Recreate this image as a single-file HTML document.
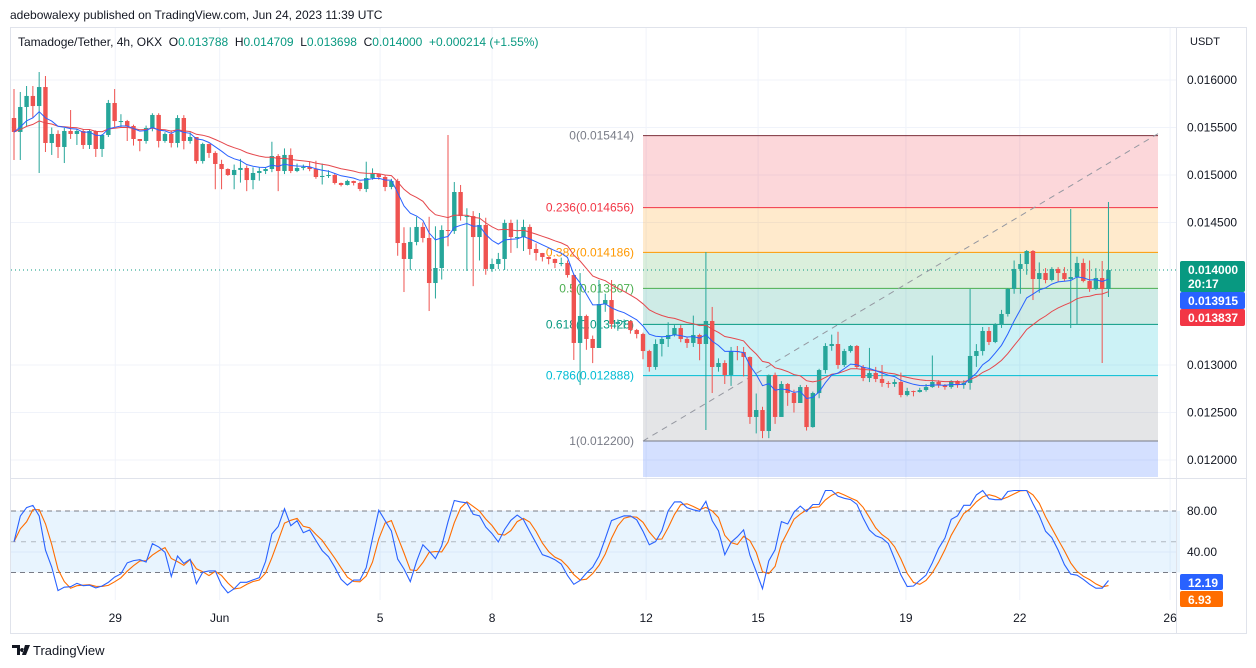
<!DOCTYPE html>
<html><head><meta charset="utf-8">
<style>
html,body{margin:0;padding:0;background:#fff;width:1256px;height:668px;overflow:hidden;font-family:"Liberation Sans",sans-serif;}
svg text{font-family:"Liberation Sans",sans-serif;}
</style></head>
<body>
<svg id="c" width="1256" height="668" viewBox="0 0 1256 668" xmlns="http://www.w3.org/2000/svg"></svg>
<script>
const firstOpen = 15600;
const closes = [15453,15716,15832,15726,15926,15337,15432,15295,15463,15432,
15463,15316,15463,15274,15421,15758,15568,15568,15516,15379,
15358,15495,15632,15358,15432,15337,15600,15358,15400,15147,
15326,15232,15116,15063,15000,15053,15074,14947,15021,15042,
15063,15200,15042,15211,15042,15074,15084,15063,14979,14990,
15000,14916,14895,14937,14916,14853,14968,15011,14979,14874,
14937,14284,14116,14295,14453,14337,13863,14021,14421,14411,
14821,14568,14568,14347,14474,14011,14063,14116,14495,14347,
14347,14453,14221,14179,14137,14116,14074,14074,13947,13232,
13516,13274,13179,13642,13684,13432,13453,13463,13368,13326,
13147,12979,13221,13274,13316,13389,13274,13232,13316,13221,
13463,12979,13021,12895,13147,13137,13084,12453,12526,12305,
12895,12453,12800,12705,12600,12768,12347,12705,12947,13200,
13221,13000,13147,13200,12979,12863,12916,12853,12811,12800,
12821,12684,12726,12716,12737,12768,12821,12789,12768,12832,
12789,12811,13095,13147,13358,13242,13421,13537,13800,14011,
14063,14200,13905,13968,13895,14011,13968,13905,13926,14074,
13884,13800,13916,13800,14000];
const highs = [15905,15874,15937,15937,16084,16042,15500,15470,15495,15684,
15480,15480,15480,15470,15430,15790,15905,15640,15580,15530,
15379,15520,15650,15650,15450,15470,15630,15630,15450,15400,
15340,15330,15250,15160,15070,15110,15170,15100,15080,15080,
15080,15350,15220,15280,15280,15120,15110,15140,15150,15120,
15050,15010,14920,14950,14940,14930,15140,15070,15000,15000,
14960,14960,14450,14450,14560,14500,14560,14460,14470,15421,
14926,14895,14650,14620,14600,14550,14120,14180,14530,14530,
14530,14530,14480,14280,14180,14140,14120,14130,14100,13960,
13968,13530,13310,13895,13750,13895,13480,13480,13470,13380,
13340,13160,13270,13300,13450,13420,13420,13290,13520,13330,
14189,13611,13070,13050,13190,13200,13190,13090,12700,12560,
12900,12920,12830,12810,12740,12790,12790,12720,12960,13230,
13320,13350,13170,13210,13210,13000,13180,12980,13000,12830,
12850,12920,12760,12730,12760,12800,13100,12840,12800,12840,
12840,12840,13800,13220,13400,13400,13440,13580,13810,14100,
14170,14210,14210,14080,14020,14030,14030,14030,14642,14140,
14120,14100,14020,14095,14716];
const lows = [15158,15158,15516,15600,15021,15242,15211,15179,15126,15380,
15316,15274,15274,15190,15190,15400,15500,15500,15358,15310,
15250,15330,15460,15290,15340,15290,15290,15270,15330,15120,
15120,15180,14850,14850,14990,14850,14920,14830,14850,14940,
15010,15030,14830,15010,15020,15030,15050,15040,14960,14900,
14970,14900,14880,14890,14890,14830,14820,14950,14950,14830,
14850,14150,13768,14000,14260,14290,13568,13700,13900,14250,
14380,14520,13990,13830,14100,13950,13980,14010,14000,14180,
14230,14200,14160,14100,14090,14060,14020,14040,13920,13053,
12789,13160,13020,13180,13560,13380,13360,13380,13330,13280,
13060,12930,12950,13090,13190,13300,13240,13180,13190,13050,
12316,12705,12930,12800,12780,13050,12880,12380,12280,12230,
12230,12380,12640,12570,12500,12600,12310,12340,12650,12910,
13150,12960,12980,13130,12960,12830,12820,12820,12770,12760,
12770,12660,12670,12670,12710,12720,12760,12760,12740,12750,
12760,12750,12740,12980,13100,13210,13230,13390,13510,13750,
13750,13950,13684,13760,13860,13880,13880,13880,13389,13421,
13870,13770,13790,13021,13716];
const priceTicks = [16000,15500,15000,14500,13000,12500,12000];
const timeLabels = ["29","Jun","5","8","12","15","19","22","26"];
const timeLabelIdx = [16.1,32.7,58.2,76,100.5,118.3,141.8,159.9,183.8];
const fibRatios = ["0","0.236","0.382","0.5","0.618","0.786","1"];
const fibPrices = [15414,14656,14186,13807,13428,12888,12200];
const oscTicks = [80,40];
const lastClose = 14000, blueLast = 13915, redLast = 13837;

const NS="http://www.w3.org/2000/svg";
const svg=document.getElementById('c');
function el(tag,attrs,parent){const e=document.createElementNS(NS,tag);for(const k in attrs)e.setAttribute(k,attrs[k]);(parent||svg).appendChild(e);return e;}
function yP(p){return 80+(16000-p)*0.0950;}
function xI(i){return 14+i*6.29;}
function yO(v){return 593-v*1.025;}

const frame=el('rect',{x:10.5,y:27.5,width:1236,height:606,fill:'none',stroke:'#e0e3eb'});


const hdr=el('text',{x:10,y:19,'font-size':12,fill:'#131722'});hdr.textContent='adebowalexy published on TradingView.com, Jun 24, 2023 11:39 UTC';



priceTicks.forEach(p=>{const g=el('line',{x1:11,x2:1176,y1:yP(p),y2:yP(p),stroke:'#f0f3fa'});

});
[511,552].forEach(y=>{el('line',{x1:11,x2:1176,y1:y,y2:y,stroke:'#f0f3fa'});});
timeLabelIdx.forEach(i=>{const g=el('line',{x1:xI(i),x2:xI(i),y1:28,y2:600,stroke:'#f0f3fa'});

});

const fx1=643,fx2=1158;
const fibFill=['rgba(242,54,69,0.2)','rgba(255,152,0,0.2)','rgba(76,175,80,0.2)','rgba(8,153,129,0.2)','rgba(0,188,212,0.2)','rgba(120,123,134,0.2)'];
const fibCol=['#7b2f3a','#f23645','#ff9800','#4caf50','#089981','#00bcd4','#787b86'];
for(let k=0;k<fibPrices.length-1;k++){const r=el('rect',{x:fx1,y:yP(fibPrices[k]),width:fx2-fx1,height:yP(fibPrices[k+1])-yP(fibPrices[k]),fill:fibFill[k]});

}
const rb=el('rect',{x:fx1,y:yP(fibPrices[6]),width:fx2-fx1,height:477-yP(fibPrices[6]),fill:'rgba(41,98,255,0.2)'});


fibPrices.forEach((p,k)=>{const l=el('line',{x1:fx1,x2:fx2,y1:yP(p),y2:yP(p),stroke:fibCol[k],'stroke-width':1});


const t=el('text',{x:634,y:yP(p)+4,'text-anchor':'end','font-size':12,fill:fibCol[k]==='#7b2f3a'?'#787b86':fibCol[k]});
t.textContent=fibRatios[k]+'('+(p/1e6).toFixed(6)+')';

});
const tl=el('line',{x1:fx1,y1:yP(fibPrices[6]),x2:fx2,y2:yP(fibPrices[0])-2,stroke:'#9598a1','stroke-dasharray':'6,5'});



const cp=el('line',{x1:11,x2:1176,y1:yP(lastClose),y2:yP(lastClose),stroke:'#089981','stroke-dasharray':'1,3'});



const n=closes.length;
for(let i=0;i<n;i++){const o=i?closes[i-1]:firstOpen,c=closes[i];const up=c>=o;const col=up?'#26a69a':'#ef5350';const x=xI(i);
const w=el('line',{x1:x,x2:x,y1:yP(highs[i]),y2:yP(lows[i]),stroke:col,'stroke-width':1});


const top=yP(Math.max(o,c)),bot=yP(Math.min(o,c));
const b=el('rect',{x:x-2.2,y:top,width:4.4,height:Math.max(1,bot-top),fill:col});

}

function ema(arr,len){const k=2/(len+1);const out=[];let v=arr[0];for(let i=0;i<arr.length;i++){v=i?arr[i]*k+v*(1-k):arr[i];out.push(v);}return out;}
function poly(vals,col,name){const pts=vals.map((v,i)=>xI(i).toFixed(1)+','+yP(v).toFixed(1)).join(' ');
const p=el('polyline',{points:pts,fill:'none',stroke:col,'stroke-width':1});

}
poly(ema(closes,20),'#e5484d','ma-slow-line');
poly(ema(closes,9),'#2962ff','ma-fast-line');

const sep=el('line',{x1:11,x2:1246,y1:478.5,y2:478.5,stroke:'#e0e3eb'});


const band=el('rect',{x:11,y:yO(80),width:1169,height:yO(20)-yO(80),fill:'rgba(33,150,243,0.1)'});


[80,50,20].forEach(v=>{const l=el('line',{x1:11,x2:1180,y1:yO(v),y2:yO(v),stroke:'#787b86','stroke-dasharray':v===50?'5,5':'5,4','stroke-opacity':v===50?0.5:1});

});
const rsi=[];let ag=0,al=0;const L=14;
for(let i=0;i<n;i++){if(i===0){rsi.push(50);continue;}const d=closes[i]-closes[i-1];const g=Math.max(d,0),lo=Math.max(-d,0);
if(i<=L){ag=(ag*(i-1)+g)/i;al=(al*(i-1)+lo)/i;}else{ag=(ag*(L-1)+g)/L;al=(al*(L-1)+lo)/L;}
rsi.push(al===0?100:100-100/(1+ag/al));}
const raw=[];for(let i=0;i<n;i++){const s=rsi.slice(Math.max(0,i-13),i+1);const mx=Math.max(...s),mn=Math.min(...s);raw.push(mx===mn?50:(rsi[i]-mn)/(mx-mn)*100);}
function sma(a,len){return a.map((v,i)=>{const s=a.slice(Math.max(0,i-len+1),i+1);return s.reduce((x,y)=>x+y,0)/s.length;});}
const kLine=sma(raw,3),dLine=sma(kLine,3);
function opoly(vals,col,name){const pts=vals.map((v,i)=>xI(i).toFixed(1)+','+yO(v).toFixed(1)).join(' ');
const p=el('polyline',{points:pts,fill:'none',stroke:col,'stroke-width':1.1});

}
opoly(dLine,'#ff6d00','stoch-d-line');
opoly(kLine,'#2962ff','stoch-k-line');

const ax=el('line',{x1:1176.5,x2:1176.5,y1:28,y2:633,stroke:'#e0e3eb'});


const us=el('text',{x:1190,y:45,'font-size':11,fill:'#131722'});us.textContent='USDT';


priceTicks.forEach(p=>{const t=el('text',{x:1187,y:yP(p)+4,'font-size':12,fill:'#131722'});t.textContent=(p/1e6).toFixed(6);

});
oscTicks.forEach(v=>{const t=el('text',{x:1187,y:yO(v)+4,'font-size':12,fill:'#131722'});t.textContent=v.toFixed(2);

});
function badge(y,h,col,lines,name){const g=el('g',{});


el('rect',{x:1180,y:y,width:(name.startsWith('osc')?43:65),height:h,rx:2,fill:col},g);
lines.forEach((s,j)=>{const t=el('text',{x:1188,y:y+13+j*14,'font-size':12,'font-weight':'bold',fill:'#fff'},g);t.textContent=s;});}
badge(yP(lastClose)-9,31,'#089981',[(lastClose/1e6).toFixed(6),'20:17'],'last-price-badge');
badge(292,17,'#2962ff',[(blueLast/1e6).toFixed(6)],'ma-fast-badge');
badge(309,17,'#f23645',[(redLast/1e6).toFixed(6)],'ma-slow-badge');
badge(574,16,'#2962ff',['12.19'],'osc-k-badge');
badge(591,16,'#ff6d00',['6.93'],'osc-d-badge');

timeLabels.forEach((s,k)=>{const t=el('text',{x:xI(timeLabelIdx[k]),y:622,'text-anchor':'middle','font-size':12,fill:'#131722'});t.textContent=s;

});

const lg=el('text',{x:18,y:46,'font-size':12,fill:'#131722'});


[['Tamadoge/Tether, 4h, OKX  ','#131722'],['O','#131722'],['0.013788  ','#089981'],['H','#131722'],['0.014709  ','#089981'],['L','#131722'],['0.013698  ','#089981'],['C','#131722'],['0.014000  ','#089981'],['+0.000214 (+1.55%)','#089981']].forEach(([s,c])=>{const ts=el('tspan',{fill:c,'xml:space':'preserve'},lg);ts.textContent=s;});
lg.setAttribute('style','white-space:pre');

const lo=el('g',{});


el('path',{d:'M12 645h8v10h-3v-7h-5z M22 648a2 2 0 1 0 0.1 0z M25 645h5l-4 10h-4z',fill:'#131722'},lo);
const lt=el('text',{x:33,y:655,'font-size':13,fill:'#131722'},lo);lt.textContent='TradingView';
</script>
</body></html>
